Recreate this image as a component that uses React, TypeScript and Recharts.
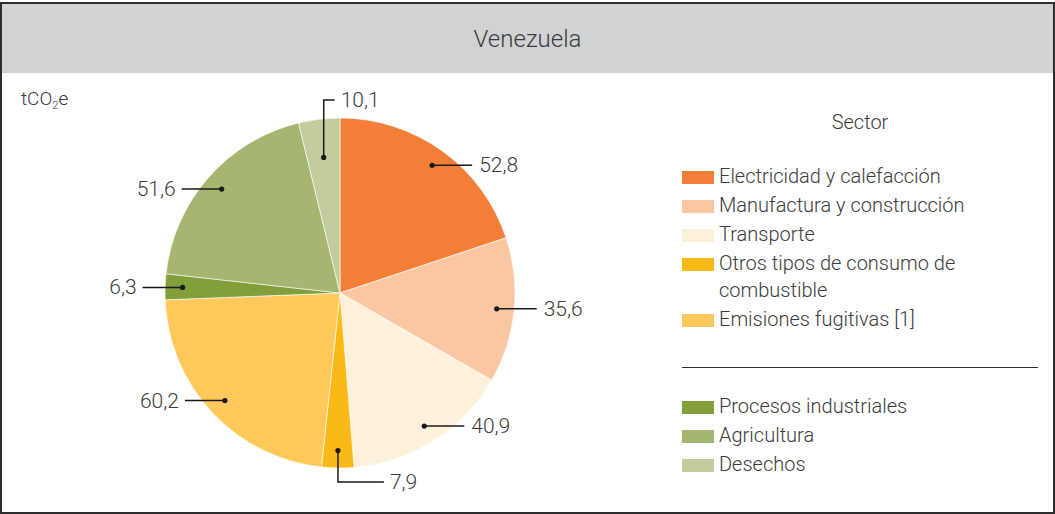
import { PieChart, Pie, Cell } from "recharts"

const sectors = [
    "Electricidad y calefacción",
    "Manufactura y construcción",
    "Transporte",
    "Otros tipos de consumo de combustible",
    "Emisiones fugitivas [1]",
    "Procesos industriales",
    "Agricultura",
    "Desechos",
]

// tCO2e per sector
const values = [52.8, 35.6, 40.9, 7.9, 60.2, 6.3, 51.6, 10.1]

const colors = [
    "#f27e38",
    "#fbc6a2",
    "#fef1da",
    "#fbb916",
    "#fec85a",
    "#829f3b",
    "#a4b66f",
    "#c4cc9d",
]

// the first five sectors belong to energy, the rest go below the rule
const energyCount = 5

const data = sectors.map((name, i) => ({ name, value: values[i] }))

const font = "Roboto, 'Noto Sans', sans-serif"
const textColor = "#3b3b3b"

function fmt(v: number) {
    return v.toFixed(1).replace(".", ",")
}

function renderLabel(props: any) {
    const { cx, cy, midAngle, outerRadius, value } = props
    const rad = Math.PI / 180
    const cos = Math.cos(-midAngle * rad)
    const sin = Math.sin(-midAngle * rad)

    // near-vertical slices get an elbow leader
    if (Math.abs(cos) < 0.2) {
        const r = outerRadius * (sin < 0 ? 0.78 : 0.9)
        const x = cx + r * cos
        const y = cy + r * sin
        const yEnd = sin < 0 ? cy - outerRadius - 18 : cy + outerRadius + 14
        const run = sin < 0 ? 11 : 46
        return (
            <g>
                <circle cx={x} cy={y} r={2.6} fill="#1a1a1a" />
                <polyline
                    points={`${x},${y} ${x},${yEnd} ${x + run},${yEnd}`}
                    fill="none"
                    stroke="#1a1a1a"
                    strokeWidth={1.5}
                />
                <text
                    x={x + run + 6}
                    y={yEnd}
                    dominantBaseline="central"
                    textAnchor="start"
                    fontFamily={font}
                    fontWeight={300}
                    fontSize={21}
                    fill={textColor}
                >
                    {fmt(value)}
                </text>
            </g>
        )
    }

    const r = outerRadius * 0.9
    const x = cx + r * cos
    const y = cy + r * sin
    const right = cos > 0
    const x2 = right ? x + 40 : x - 40
    return (
        <g>
            <circle cx={x} cy={y} r={2.6} fill="#1a1a1a" />
            <line x1={x} y1={y} x2={x2} y2={y} stroke="#1a1a1a" strokeWidth={1.5} />
            <text
                x={right ? x2 + 7 : x2 - 6}
                y={y}
                dominantBaseline="central"
                textAnchor={right ? "start" : "end"}
                fontFamily={font}
                fontWeight={300}
                fontSize={21}
                fill={textColor}
            >
                {fmt(value)}
            </text>
        </g>
    )
}

function LegendItem({ name, color }: { name: string; color: string }) {
    return (
        <div style={{ display: "flex", alignItems: "flex-start", marginBottom: 2 }}>
            <div
                style={{
                    width: 32,
                    height: 13,
                    background: color,
                    marginTop: 8,
                    marginRight: 5,
                    flex: "none",
                }}
            />
            <div style={{ width: 266, lineHeight: "27px" }}>{name}</div>
        </div>
    )
}

export default function App() {
    return (
        <div
            style={{
                position: "relative",
                width: 1055,
                height: 514,
                background: "#fff",
                fontFamily: font,
                fontWeight: 300,
                color: textColor,
                overflow: "hidden",
            }}
        >
            <style>{`body{margin:0}`}</style>
            <div
                style={{
                    position: "absolute",
                    left: 0,
                    top: 2,
                    width: 1055,
                    height: 512,
                    border: "2px solid #2e2e2e",
                    boxSizing: "border-box",
                }}
            />
            <div
                style={{
                    position: "absolute",
                    left: 2,
                    top: 4,
                    width: 1051,
                    height: 69,
                    background: "#d1d2d4",
                    display: "flex",
                    alignItems: "center",
                    justifyContent: "center",
                    fontSize: 24,
                }}
            >
                Venezuela
            </div>
            <div style={{ position: "absolute", left: 21, top: 87, fontSize: 19 }}>
                tCO<sub style={{ fontSize: 11, verticalAlign: "-4px" }}>2</sub>e
            </div>

            <div style={{ position: "absolute", left: 0, top: 0 }}>
                <PieChart width={1055} height={514} margin={{ top: 0, right: 0, bottom: 0, left: 0 }}>
                    <Pie
                        data={data}
                        dataKey="value"
                        nameKey="name"
                        cx={340}
                        cy={293}
                        outerRadius={175}
                        startAngle={90}
                        endAngle={-270}
                        stroke="#ffffff"
                        strokeWidth={0.6}
                        label={renderLabel}
                        labelLine={false}
                        isAnimationActive={false}
                    >
                        {data.map((d, i) => (
                            <Cell key={d.name} fill={colors[i]} />
                        ))}
                    </Pie>
                </PieChart>
            </div>

            <div
                style={{
                    position: "absolute",
                    left: 682,
                    top: 109,
                    width: 356,
                    fontSize: 20,
                }}
            >
                <div style={{ textAlign: "center", lineHeight: "27px", marginBottom: 27 }}>Sector</div>
                {sectors.slice(0, energyCount).map((s, i) => (
                    <LegendItem key={s} name={s} color={colors[i]} />
                ))}
                <div style={{ borderTop: "1.5px solid #2e2e2e", marginTop: 34, marginBottom: 25 }} />
                {sectors.slice(energyCount).map((s, i) => (
                    <LegendItem key={s} name={s} color={colors[i + energyCount]} />
                ))}
            </div>
        </div>
    )
}
